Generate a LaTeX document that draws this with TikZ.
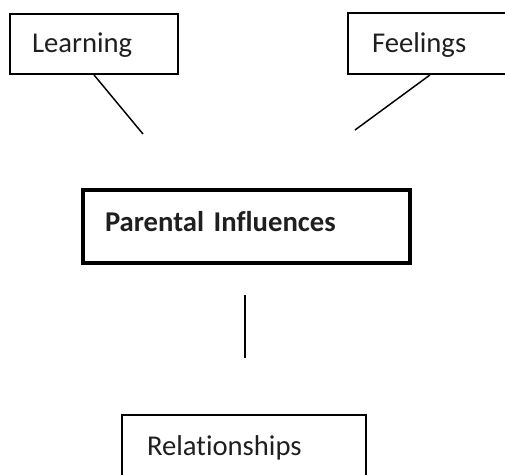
\documentclass[tikz,border=0pt]{standalone}
\usepackage{fontspec}
\setmainfont{Carlito}[Ligatures=NoCommon]
\usepackage{tikz}
\tikzset{box/.style={draw=black, line width=1.4pt, align=left, text=black!88, font=\fontsize{21.5}{25}\selectfont, text height=15pt, text depth=2pt, inner ysep=0pt},
  link/.style={black, line width=1.1pt}}

\begin{document}
\begin{tikzpicture}[x=0.75pt, y=-0.75pt]
\useasboundingbox (0,0) rectangle (505,474);
\clip (0,0) rectangle (505,474);
\node[box, text width=93pt, inner xsep=16.5pt, minimum height=45pt] (learning) at (94,44) {Learning};
\node[box, text width=93pt, inner xsep=18pt, minimum height=45.75pt] (feelings) at (434,43.5) {Feelings};
\node[box, line width=3.4pt, font=\fontsize{21.5}{25}\selectfont\bfseries, text depth=6.8pt, text width=212.25pt, inner xsep=16.5pt, minimum height=54.75pt] (parental) at (246.5,226.5) {Parental Influences};
\node[box, text width=145.5pt, inner xsep=18.75pt, minimum height=48pt] (relations) at (244,447) {Relationships};

\coordinate (learning-end) at (143,134);
\coordinate (feelings-end) at (355,130);
\coordinate (stem-top) at (245,295);
\coordinate (stem-bottom) at (245,358);

\draw[link] (learning.south) -- (learning-end);
\draw[link] ([xshift=-3pt]feelings.south) -- (feelings-end);
\draw[link] (stem-top) -- (stem-bottom);
\end{tikzpicture}
\end{document}
